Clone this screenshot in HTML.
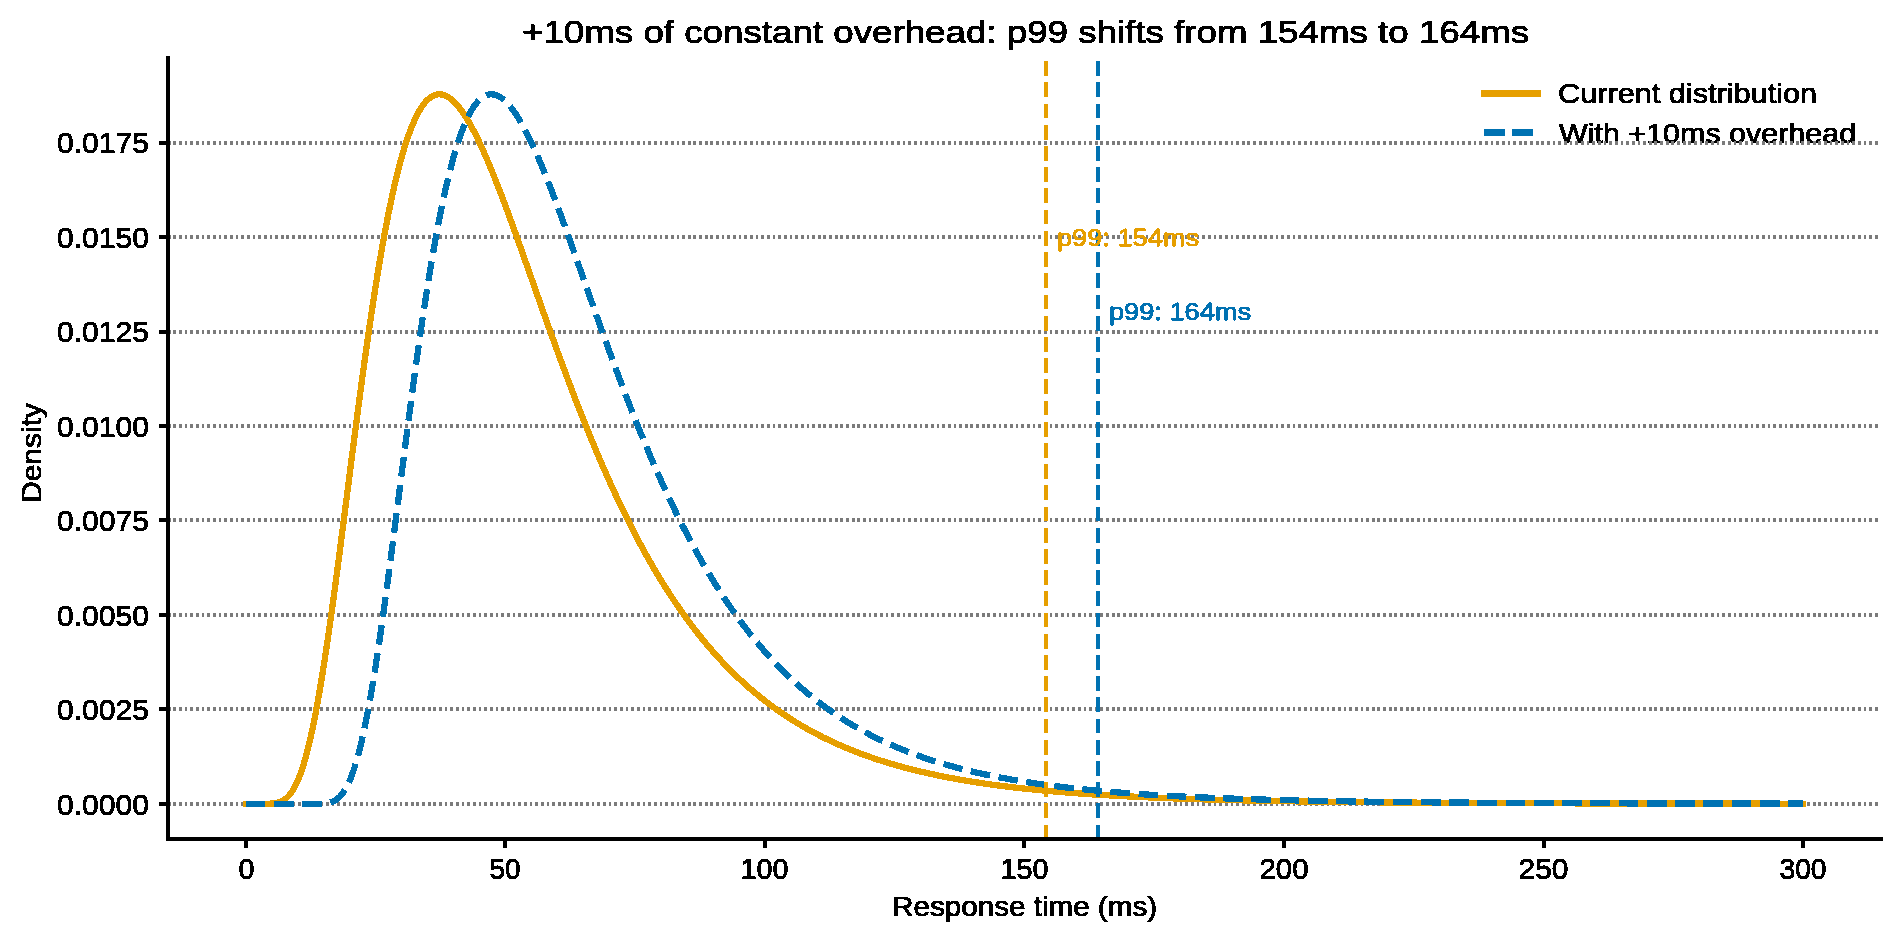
<!DOCTYPE html><html><head><meta charset="utf-8"><title>p99 overhead chart</title><style>
html,body{margin:0;padding:0;background:#fff;width:1900px;height:940px;overflow:hidden}
svg{display:block}
text{font-family:"Liberation Sans",sans-serif}
</style></head><body>
<svg width="1900" height="940" viewBox="0 0 1900 940">
<defs><filter id="bin" x="-5%" y="-20%" width="110%" height="140%" color-interpolation-filters="sRGB"><feComponentTransfer><feFuncA type="discrete" tableValues="0 1"/></feComponentTransfer></filter></defs>
<rect width="1900" height="940" fill="#fff"/>
<g filter="url(#bin)">
<text x="1558.00" y="103.00" font-size="27.78" fill="#000" text-anchor="start" textLength="259.10" lengthAdjust="spacingAndGlyphs" stroke="#000" stroke-width="0.90" stroke-linejoin="round">Current distribution</text>
<text x="1559.00" y="143.00" font-size="27.78" fill="#000" text-anchor="start" textLength="297.10" lengthAdjust="spacingAndGlyphs" stroke="#000" stroke-width="0.90" stroke-linejoin="round">With +10ms overhead</text>
</g>
<g shape-rendering="crispEdges" stroke="#7b7b7b" stroke-width="4" stroke-dasharray="2.75 2.903" fill="none">
<path d="M167.75 804 H1880.7"/>
<path d="M167.75 709 H1880.7"/>
<path d="M167.75 615 H1880.7"/>
<path d="M167.75 520 H1880.7"/>
<path d="M167.75 426 H1880.7"/>
<path d="M167.75 332 H1880.7"/>
<path d="M167.75 237 H1880.7"/>
<path d="M167.75 143 H1880.7"/>
</g>
<g fill="none" shape-rendering="crispEdges" stroke-linejoin="round">
<path d="M245.65 803.80 L246.69 803.80 L247.73 803.80 L248.76 803.80 L249.80 803.80 L250.84 803.80 L251.88 803.80 L252.92 803.80 L253.96 803.80 L254.99 803.80 L256.03 803.80 L257.07 803.80 L258.11 803.80 L259.15 803.80 L260.19 803.80 L261.22 803.80 L262.26 803.80 L263.30 803.79 L264.34 803.79 L265.38 803.78 L266.42 803.76 L267.45 803.74 L268.49 803.72 L269.53 803.68 L270.57 803.63 L271.61 803.57 L272.65 803.48 L273.68 803.37 L274.72 803.24 L275.76 803.07 L276.80 802.86 L277.84 802.61 L278.88 802.31 L279.91 801.96 L280.95 801.54 L281.99 801.06 L283.03 800.50 L284.07 799.86 L285.11 799.13 L286.14 798.30 L287.18 797.37 L288.22 796.33 L289.26 795.18 L290.30 793.90 L291.34 792.50 L292.37 790.96 L293.41 789.28 L294.45 787.45 L295.49 785.47 L296.53 783.33 L297.56 781.04 L298.60 778.57 L299.64 775.94 L300.68 773.14 L301.72 770.17 L302.76 767.01 L303.79 763.68 L304.83 760.17 L305.87 756.48 L306.91 752.61 L307.95 748.55 L308.99 744.32 L310.02 739.90 L311.06 735.31 L312.10 730.54 L313.14 725.59 L314.18 720.47 L315.22 715.18 L316.25 709.73 L317.29 704.11 L318.33 698.32 L319.37 692.39 L320.41 686.30 L321.45 680.06 L322.48 673.68 L323.52 667.16 L324.56 660.50 L325.60 653.72 L326.64 646.82 L327.68 639.80 L328.71 632.66 L329.75 625.42 L330.79 618.09 L331.83 610.65 L332.87 603.13 L333.91 595.53 L334.94 587.85 L335.98 580.10 L337.02 572.29 L338.06 564.42 L339.10 556.49 L340.14 548.52 L341.17 540.52 L342.21 532.47 L343.25 524.40 L344.29 516.31 L345.33 508.20 L346.37 500.08 L347.40 491.95 L348.44 483.82 L349.48 475.70 L350.52 467.59 L351.56 459.49 L352.59 451.42 L353.63 443.37 L354.67 435.35 L355.71 427.37 L356.75 419.42 L357.79 411.52 L358.82 403.67 L359.86 395.87 L360.90 388.13 L361.94 380.44 L362.98 372.82 L364.02 365.27 L365.05 357.79 L366.09 350.39 L367.13 343.06 L368.17 335.81 L369.21 328.64 L370.25 321.56 L371.28 314.57 L372.32 307.68 L373.36 300.87 L374.40 294.16 L375.44 287.55 L376.48 281.04 L377.51 274.63 L378.55 268.33 L379.59 262.13 L380.63 256.04 L381.67 250.06 L382.71 244.18 L383.74 238.42 L384.78 232.77 L385.82 227.23 L386.86 221.81 L387.90 216.50 L388.94 211.31 L389.97 206.23 L391.01 201.27 L392.05 196.43 L393.09 191.70 L394.13 187.10 L395.17 182.61 L396.20 178.24 L397.24 173.98 L398.28 169.85 L399.32 165.83 L400.36 161.93 L401.39 158.15 L402.43 154.48 L403.47 150.93 L404.51 147.50 L405.55 144.19 L406.59 140.99 L407.62 137.90 L408.66 134.93 L409.70 132.07 L410.74 129.33 L411.78 126.69 L412.82 124.17 L413.85 121.76 L414.89 119.46 L415.93 117.27 L416.97 115.18 L418.01 113.20 L419.05 111.33 L420.08 109.56 L421.12 107.90 L422.16 106.33 L423.20 104.87 L424.24 103.51 L425.28 102.25 L426.31 101.09 L427.35 100.02 L428.39 99.05 L429.43 98.17 L430.47 97.39 L431.51 96.70 L432.54 96.10 L433.58 95.58 L434.62 95.16 L435.66 94.82 L436.70 94.57 L437.74 94.40 L438.77 94.32 L439.81 94.31 L440.85 94.39 L441.89 94.55 L442.93 94.78 L443.97 95.09 L445.00 95.48 L446.04 95.94 L447.08 96.47 L448.12 97.07 L449.16 97.74 L450.20 98.48 L451.23 99.29 L452.27 100.17 L453.31 101.11 L454.35 102.11 L455.39 103.18 L456.42 104.30 L457.46 105.49 L458.50 106.73 L459.54 108.04 L460.58 109.39 L461.62 110.81 L462.65 112.27 L463.69 113.79 L464.73 115.36 L465.77 116.98 L466.81 118.65 L467.85 120.37 L468.88 122.13 L469.92 123.94 L470.96 125.79 L472.00 127.69 L473.04 129.63 L474.08 131.61 L475.11 133.63 L476.15 135.69 L477.19 137.79 L478.23 139.92 L479.27 142.09 L480.31 144.30 L481.34 146.54 L482.38 148.81 L483.42 151.11 L484.46 153.45 L485.50 155.81 L486.54 158.21 L487.57 160.63 L488.61 163.08 L489.65 165.55 L490.69 168.06 L491.73 170.58 L492.77 173.13 L493.80 175.70 L494.84 178.30 L495.88 180.92 L496.92 183.55 L497.96 186.21 L499.00 188.89 L500.03 191.58 L501.07 194.29 L502.11 197.02 L503.15 199.77 L504.19 202.53 L505.23 205.30 L506.26 208.09 L507.30 210.89 L508.34 213.71 L509.38 216.53 L510.42 219.37 L511.45 222.22 L512.49 225.08 L513.53 227.95 L514.57 230.82 L515.61 233.71 L516.65 236.60 L517.68 239.50 L518.72 242.41 L519.76 245.32 L520.80 248.24 L521.84 251.16 L522.88 254.09 L523.91 257.02 L524.95 259.96 L525.99 262.90 L527.03 265.84 L528.07 268.78 L529.11 271.72 L530.14 274.67 L531.18 277.62 L532.22 280.56 L533.26 283.51 L534.30 286.46 L535.34 289.40 L536.37 292.35 L537.41 295.29 L538.45 298.23 L539.49 301.17 L540.53 304.11 L541.57 307.04 L542.60 309.97 L543.64 312.90 L544.68 315.82 L545.72 318.74 L546.76 321.65 L547.80 324.56 L548.83 327.46 L549.87 330.36 L550.91 333.25 L551.95 336.14 L552.99 339.02 L554.03 341.89 L555.06 344.76 L556.10 347.62 L557.14 350.47 L558.18 353.32 L559.22 356.16 L560.25 358.99 L561.29 361.81 L562.33 364.62 L563.37 367.43 L564.41 370.22 L565.45 373.01 L566.48 375.79 L567.52 378.56 L568.56 381.32 L569.60 384.07 L570.64 386.81 L571.68 389.54 L572.71 392.26 L573.75 394.97 L574.79 397.68 L575.83 400.37 L576.87 403.05 L577.91 405.72 L578.94 408.37 L579.98 411.02 L581.02 413.66 L582.06 416.29 L583.10 418.90 L584.14 421.50 L585.17 424.10 L586.21 426.68 L587.25 429.25 L588.29 431.80 L589.33 434.35 L590.37 436.88 L591.40 439.41 L592.44 441.92 L593.48 444.41 L594.52 446.90 L595.56 449.38 L596.60 451.84 L597.63 454.29 L598.67 456.73 L599.71 459.15 L600.75 461.56 L601.79 463.97 L602.83 466.35 L603.86 468.73 L604.90 471.09 L605.94 473.44 L606.98 475.78 L608.02 478.11 L609.05 480.42 L610.09 482.72 L611.13 485.01 L612.17 487.29 L613.21 489.55 L614.25 491.80 L615.28 494.04 L616.32 496.26 L617.36 498.48 L618.40 500.68 L619.44 502.86 L620.48 505.04 L621.51 507.20 L622.55 509.35 L623.59 511.49 L624.63 513.61 L625.67 515.72 L626.71 517.82 L627.74 519.91 L628.78 521.98 L629.82 524.04 L630.86 526.09 L631.90 528.13 L632.94 530.15 L633.97 532.16 L635.01 534.16 L636.05 536.15 L637.09 538.12 L638.13 540.08 L639.17 542.03 L640.20 543.97 L641.24 545.89 L642.28 547.80 L643.32 549.70 L644.36 551.59 L645.40 553.47 L646.43 555.33 L647.47 557.18 L648.51 559.02 L649.55 560.85 L650.59 562.67 L651.63 564.47 L652.66 566.26 L653.70 568.04 L654.74 569.81 L655.78 571.56 L656.82 573.31 L657.86 575.04 L658.89 576.76 L659.93 578.47 L660.97 580.17 L662.01 581.86 L663.05 583.53 L664.08 585.20 L665.12 586.85 L666.16 588.49 L667.20 590.12 L668.24 591.74 L669.28 593.35 L670.31 594.94 L671.35 596.53 L672.39 598.10 L673.43 599.67 L674.47 601.22 L675.51 602.76 L676.54 604.29 L677.58 605.81 L678.62 607.32 L679.66 608.82 L680.70 610.31 L681.74 611.78 L682.77 613.25 L683.81 614.71 L684.85 616.15 L685.89 617.59 L686.93 619.02 L687.97 620.43 L689.00 621.84 L690.04 623.23 L691.08 624.62 L692.12 625.99 L693.16 627.36 L694.20 628.71 L695.23 630.06 L696.27 631.40 L697.31 632.72 L698.35 634.04 L699.39 635.35 L700.43 636.64 L701.46 637.93 L702.50 639.21 L703.54 640.48 L704.58 641.74 L705.62 642.99 L706.66 644.23 L707.69 645.46 L708.73 646.69 L709.77 647.90 L710.81 649.11 L711.85 650.30 L712.88 651.49 L713.92 652.67 L714.96 653.84 L716.00 655.00 L717.04 656.15 L718.08 657.29 L719.11 658.43 L720.15 659.55 L721.19 660.67 L722.23 661.78 L723.27 662.88 L724.31 663.98 L725.34 665.06 L726.38 666.14 L727.42 667.21 L728.46 668.27 L729.50 669.32 L730.54 670.36 L731.57 671.40 L732.61 672.43 L733.65 673.45 L734.69 674.46 L735.73 675.47 L736.77 676.47 L737.80 677.46 L738.84 678.44 L739.88 679.41 L740.92 680.38 L741.96 681.34 L743.00 682.30 L744.03 683.24 L745.07 684.18 L746.11 685.11 L747.15 686.03 L748.19 686.95 L749.23 687.86 L750.26 688.76 L751.30 689.66 L752.34 690.55 L753.38 691.43 L754.42 692.31 L755.46 693.18 L756.49 694.04 L757.53 694.89 L758.57 695.74 L759.61 696.58 L760.65 697.42 L761.69 698.25 L762.72 699.07 L763.76 699.89 L764.80 700.70 L765.84 701.50 L766.88 702.30 L767.91 703.09 L768.95 703.87 L769.99 704.65 L771.03 705.43 L772.07 706.19 L773.11 706.95 L774.14 707.71 L775.18 708.46 L776.22 709.20 L777.26 709.94 L778.30 710.67 L779.34 711.40 L780.37 712.12 L781.41 712.83 L782.45 713.54 L783.49 714.24 L784.53 714.94 L785.57 715.63 L786.60 716.32 L787.64 717.00 L788.68 717.68 L789.72 718.35 L790.76 719.02 L791.80 719.68 L792.83 720.33 L793.87 720.98 L794.91 721.63 L795.95 722.27 L796.99 722.90 L798.03 723.53 L799.06 724.16 L800.10 724.78 L801.14 725.39 L802.18 726.00 L803.22 726.61 L804.26 727.21 L805.29 727.80 L806.33 728.40 L807.37 728.98 L808.41 729.56 L809.45 730.14 L810.49 730.71 L811.52 731.28 L812.56 731.85 L813.60 732.41 L814.64 732.96 L815.68 733.51 L816.71 734.06 L817.75 734.60 L818.79 735.14 L819.83 735.67 L820.87 736.20 L821.91 736.73 L822.94 737.25 L823.98 737.76 L825.02 738.28 L826.06 738.78 L827.10 739.29 L828.14 739.79 L829.17 740.29 L830.21 740.78 L831.25 741.27 L832.29 741.75 L833.33 742.23 L834.37 742.71 L835.40 743.18 L836.44 743.65 L837.48 744.12 L838.52 744.58 L839.56 745.04 L840.60 745.49 L841.63 745.95 L842.67 746.39 L843.71 746.84 L844.75 747.28 L845.79 747.72 L846.83 748.15 L847.86 748.58 L848.90 749.01 L849.94 749.43 L850.98 749.85 L852.02 750.27 L853.06 750.68 L854.09 751.09 L855.13 751.50 L856.17 751.90 L857.21 752.30 L858.25 752.70 L859.29 753.09 L860.32 753.48 L861.36 753.87 L862.40 754.26 L863.44 754.64 L864.48 755.02 L865.52 755.39 L866.55 755.77 L867.59 756.14 L868.63 756.50 L869.67 756.87 L870.71 757.23 L871.74 757.59 L872.78 757.94 L873.82 758.29 L874.86 758.64 L875.90 758.99 L876.94 759.34 L877.97 759.68 L879.01 760.02 L880.05 760.35 L881.09 760.69 L882.13 761.02 L883.17 761.34 L884.20 761.67 L885.24 761.99 L886.28 762.31 L887.32 762.63 L888.36 762.95 L889.40 763.26 L890.43 763.57 L891.47 763.88 L892.51 764.18 L893.55 764.49 L894.59 764.79 L895.63 765.09 L896.66 765.38 L897.70 765.68 L898.74 765.97 L899.78 766.26 L900.82 766.54 L901.86 766.83 L902.89 767.11 L903.93 767.39 L904.97 767.67 L906.01 767.94 L907.05 768.22 L908.09 768.49 L909.12 768.76 L910.16 769.02 L911.20 769.29 L912.24 769.55 L913.28 769.81 L914.32 770.07 L915.35 770.33 L916.39 770.58 L917.43 770.83 L918.47 771.08 L919.51 771.33 L920.54 771.58 L921.58 771.82 L922.62 772.07 L923.66 772.31 L924.70 772.54 L925.74 772.78 L926.77 773.02 L927.81 773.25 L928.85 773.48 L929.89 773.71 L930.93 773.94 L931.97 774.16 L933.00 774.39 L934.04 774.61 L935.08 774.83 L936.12 775.05 L937.16 775.27 L938.20 775.48 L939.23 775.70 L940.27 775.91 L941.31 776.12 L942.35 776.33 L943.39 776.54 L944.43 776.74 L945.46 776.95 L946.50 777.15 L947.54 777.35 L948.58 777.55 L949.62 777.75 L950.66 777.94 L951.69 778.14 L952.73 778.33 L953.77 778.52 L954.81 778.71 L955.85 778.90 L956.89 779.09 L957.92 779.27 L958.96 779.46 L960.00 779.64 L961.04 779.82 L962.08 780.00 L963.12 780.18 L964.15 780.35 L965.19 780.53 L966.23 780.70 L967.27 780.88 L968.31 781.05 L969.35 781.22 L970.38 781.39 L971.42 781.55 L972.46 781.72 L973.50 781.89 L974.54 782.05 L975.57 782.21 L976.61 782.37 L977.65 782.53 L978.69 782.69 L979.73 782.85 L980.77 783.00 L981.80 783.16 L982.84 783.31 L983.88 783.47 L984.92 783.62 L985.96 783.77 L987.00 783.92 L988.03 784.06 L989.07 784.21 L990.11 784.36 L991.15 784.50 L992.19 784.64 L993.23 784.78 L994.26 784.93 L995.30 785.07 L996.34 785.20 L997.38 785.34 L998.42 785.48 L999.46 785.61 L1000.49 785.75 L1001.53 785.88 L1002.57 786.02 L1003.61 786.15 L1004.65 786.28 L1005.69 786.41 L1006.72 786.53 L1007.76 786.66 L1008.80 786.79 L1009.84 786.91 L1010.88 787.04 L1011.92 787.16 L1012.95 787.28 L1013.99 787.41 L1015.03 787.53 L1016.07 787.65 L1017.11 787.77 L1018.15 787.88 L1019.18 788.00 L1020.22 788.12 L1021.26 788.23 L1022.30 788.35 L1023.34 788.46 L1024.38 788.57 L1025.41 788.68 L1026.45 788.79 L1027.49 788.90 L1028.53 789.01 L1029.57 789.12 L1030.60 789.23 L1031.64 789.34 L1032.68 789.44 L1033.72 789.55 L1034.76 789.65 L1035.80 789.75 L1036.83 789.86 L1037.87 789.96 L1038.91 790.06 L1039.95 790.16 L1040.99 790.26 L1042.03 790.36 L1043.06 790.46 L1044.10 790.55 L1045.14 790.65 L1046.18 790.75 L1047.22 790.84 L1048.26 790.93 L1049.29 791.03 L1050.33 791.12 L1051.37 791.21 L1052.41 791.30 L1053.45 791.40 L1054.49 791.49 L1055.52 791.57 L1056.56 791.66 L1057.60 791.75 L1058.64 791.84 L1059.68 791.92 L1060.72 792.01 L1061.75 792.10 L1062.79 792.18 L1063.83 792.26 L1064.87 792.35 L1065.91 792.43 L1066.95 792.51 L1067.98 792.59 L1069.02 792.68 L1070.06 792.76 L1071.10 792.84 L1072.14 792.91 L1073.18 792.99 L1074.21 793.07 L1075.25 793.15 L1076.29 793.22 L1077.33 793.30 L1078.37 793.38 L1079.40 793.45 L1080.44 793.53 L1081.48 793.60 L1082.52 793.67 L1083.56 793.75 L1084.60 793.82 L1085.63 793.89 L1086.67 793.96 L1087.71 794.03 L1088.75 794.10 L1089.79 794.17 L1090.83 794.24 L1091.86 794.31 L1092.90 794.38 L1093.94 794.44 L1094.98 794.51 L1096.02 794.58 L1097.06 794.64 L1098.09 794.71 L1099.13 794.77 L1100.17 794.84 L1101.21 794.90 L1102.25 794.96 L1103.29 795.03 L1104.32 795.09 L1105.36 795.15 L1106.40 795.21 L1107.44 795.27 L1108.48 795.33 L1109.52 795.39 L1110.55 795.45 L1111.59 795.51 L1112.63 795.57 L1113.67 795.63 L1114.71 795.69 L1115.75 795.75 L1116.78 795.80 L1117.82 795.86 L1118.86 795.92 L1119.90 795.97 L1120.94 796.03 L1121.98 796.08 L1123.01 796.14 L1124.05 796.19 L1125.09 796.24 L1126.13 796.30 L1127.17 796.35 L1128.20 796.40 L1129.24 796.46 L1130.28 796.51 L1131.32 796.56 L1132.36 796.61 L1133.40 796.66 L1134.43 796.71 L1135.47 796.76 L1136.51 796.81 L1137.55 796.86 L1138.59 796.91 L1139.63 796.96 L1140.66 797.00 L1141.70 797.05 L1142.74 797.10 L1143.78 797.15 L1144.82 797.19 L1145.86 797.24 L1146.89 797.29 L1147.93 797.33 L1148.97 797.38 L1150.01 797.42 L1151.05 797.47 L1152.09 797.51 L1153.12 797.55 L1154.16 797.60 L1155.20 797.64 L1156.24 797.68 L1157.28 797.73 L1158.32 797.77 L1159.35 797.81 L1160.39 797.85 L1161.43 797.89 L1162.47 797.94 L1163.51 797.98 L1164.55 798.02 L1165.58 798.06 L1166.62 798.10 L1167.66 798.14 L1168.70 798.18 L1169.74 798.22 L1170.78 798.25 L1171.81 798.29 L1172.85 798.33 L1173.89 798.37 L1174.93 798.41 L1175.97 798.44 L1177.01 798.48 L1178.04 798.52 L1179.08 798.55 L1180.12 798.59 L1181.16 798.63 L1182.20 798.66 L1183.23 798.70 L1184.27 798.73 L1185.31 798.77 L1186.35 798.80 L1187.39 798.84 L1188.43 798.87 L1189.46 798.91 L1190.50 798.94 L1191.54 798.97 L1192.58 799.01 L1193.62 799.04 L1194.66 799.07 L1195.69 799.10 L1196.73 799.14 L1197.77 799.17 L1198.81 799.20 L1199.85 799.23 L1200.89 799.26 L1201.92 799.29 L1202.96 799.32 L1204.00 799.36 L1205.04 799.39 L1206.08 799.42 L1207.12 799.45 L1208.15 799.48 L1209.19 799.51 L1210.23 799.53 L1211.27 799.56 L1212.31 799.59 L1213.35 799.62 L1214.38 799.65 L1215.42 799.68 L1216.46 799.71 L1217.50 799.73 L1218.54 799.76 L1219.58 799.79 L1220.61 799.82 L1221.65 799.84 L1222.69 799.87 L1223.73 799.90 L1224.77 799.92 L1225.81 799.95 L1226.84 799.98 L1227.88 800.00 L1228.92 800.03 L1229.96 800.05 L1231.00 800.08 L1232.03 800.10 L1233.07 800.13 L1234.11 800.15 L1235.15 800.18 L1236.19 800.20 L1237.23 800.23 L1238.26 800.25 L1239.30 800.28 L1240.34 800.30 L1241.38 800.32 L1242.42 800.35 L1243.46 800.37 L1244.49 800.39 L1245.53 800.42 L1246.57 800.44 L1247.61 800.46 L1248.65 800.48 L1249.69 800.51 L1250.72 800.53 L1251.76 800.55 L1252.80 800.57 L1253.84 800.59 L1254.88 800.62 L1255.92 800.64 L1256.95 800.66 L1257.99 800.68 L1259.03 800.70 L1260.07 800.72 L1261.11 800.74 L1262.15 800.76 L1263.18 800.78 L1264.22 800.80 L1265.26 800.82 L1266.30 800.84 L1267.34 800.86 L1268.38 800.88 L1269.41 800.90 L1270.45 800.92 L1271.49 800.94 L1272.53 800.96 L1273.57 800.98 L1274.61 801.00 L1275.64 801.02 L1276.68 801.03 L1277.72 801.05 L1278.76 801.07 L1279.80 801.09 L1280.84 801.11 L1281.87 801.13 L1282.91 801.14 L1283.95 801.16 L1284.99 801.18 L1286.03 801.20 L1287.06 801.21 L1288.10 801.23 L1289.14 801.25 L1290.18 801.26 L1291.22 801.28 L1292.26 801.30 L1293.29 801.31 L1294.33 801.33 L1295.37 801.35 L1296.41 801.36 L1297.45 801.38 L1298.49 801.40 L1299.52 801.41 L1300.56 801.43 L1301.60 801.44 L1302.64 801.46 L1303.68 801.47 L1304.72 801.49 L1305.75 801.50 L1306.79 801.52 L1307.83 801.53 L1308.87 801.55 L1309.91 801.56 L1310.95 801.58 L1311.98 801.59 L1313.02 801.61 L1314.06 801.62 L1315.10 801.64 L1316.14 801.65 L1317.18 801.66 L1318.21 801.68 L1319.25 801.69 L1320.29 801.71 L1321.33 801.72 L1322.37 801.73 L1323.41 801.75 L1324.44 801.76 L1325.48 801.77 L1326.52 801.79 L1327.56 801.80 L1328.60 801.81 L1329.64 801.83 L1330.67 801.84 L1331.71 801.85 L1332.75 801.86 L1333.79 801.88 L1334.83 801.89 L1335.87 801.90 L1336.90 801.91 L1337.94 801.93 L1338.98 801.94 L1340.02 801.95 L1341.06 801.96 L1342.09 801.98 L1343.13 801.99 L1344.17 802.00 L1345.21 802.01 L1346.25 802.02 L1347.29 802.03 L1348.32 802.04 L1349.36 802.06 L1350.40 802.07 L1351.44 802.08 L1352.48 802.09 L1353.52 802.10 L1354.55 802.11 L1355.59 802.12 L1356.63 802.13 L1357.67 802.14 L1358.71 802.16 L1359.75 802.17 L1360.78 802.18 L1361.82 802.19 L1362.86 802.20 L1363.90 802.21 L1364.94 802.22 L1365.98 802.23 L1367.01 802.24 L1368.05 802.25 L1369.09 802.26 L1370.13 802.27 L1371.17 802.28 L1372.21 802.29 L1373.24 802.30 L1374.28 802.31 L1375.32 802.32 L1376.36 802.33 L1377.40 802.34 L1378.44 802.34 L1379.47 802.35 L1380.51 802.36 L1381.55 802.37 L1382.59 802.38 L1383.63 802.39 L1384.67 802.40 L1385.70 802.41 L1386.74 802.42 L1387.78 802.43 L1388.82 802.44 L1389.86 802.44 L1390.89 802.45 L1391.93 802.46 L1392.97 802.47 L1394.01 802.48 L1395.05 802.49 L1396.09 802.49 L1397.12 802.50 L1398.16 802.51 L1399.20 802.52 L1400.24 802.53 L1401.28 802.54 L1402.32 802.54 L1403.35 802.55 L1404.39 802.56 L1405.43 802.57 L1406.47 802.58 L1407.51 802.58 L1408.55 802.59 L1409.58 802.60 L1410.62 802.61 L1411.66 802.61 L1412.70 802.62 L1413.74 802.63 L1414.78 802.64 L1415.81 802.64 L1416.85 802.65 L1417.89 802.66 L1418.93 802.67 L1419.97 802.67 L1421.01 802.68 L1422.04 802.69 L1423.08 802.69 L1424.12 802.70 L1425.16 802.71 L1426.20 802.71 L1427.24 802.72 L1428.27 802.73 L1429.31 802.73 L1430.35 802.74 L1431.39 802.75 L1432.43 802.75 L1433.47 802.76 L1434.50 802.77 L1435.54 802.77 L1436.58 802.78 L1437.62 802.79 L1438.66 802.79 L1439.69 802.80 L1440.73 802.81 L1441.77 802.81 L1442.81 802.82 L1443.85 802.82 L1444.89 802.83 L1445.92 802.84 L1446.96 802.84 L1448.00 802.85 L1449.04 802.85 L1450.08 802.86 L1451.12 802.87 L1452.15 802.87 L1453.19 802.88 L1454.23 802.88 L1455.27 802.89 L1456.31 802.89 L1457.35 802.90 L1458.38 802.91 L1459.42 802.91 L1460.46 802.92 L1461.50 802.92 L1462.54 802.93 L1463.58 802.93 L1464.61 802.94 L1465.65 802.94 L1466.69 802.95 L1467.73 802.95 L1468.77 802.96 L1469.81 802.97 L1470.84 802.97 L1471.88 802.98 L1472.92 802.98 L1473.96 802.99 L1475.00 802.99 L1476.04 803.00 L1477.07 803.00 L1478.11 803.01 L1479.15 803.01 L1480.19 803.02 L1481.23 803.02 L1482.27 803.02 L1483.30 803.03 L1484.34 803.03 L1485.38 803.04 L1486.42 803.04 L1487.46 803.05 L1488.50 803.05 L1489.53 803.06 L1490.57 803.06 L1491.61 803.07 L1492.65 803.07 L1493.69 803.08 L1494.72 803.08 L1495.76 803.08 L1496.80 803.09 L1497.84 803.09 L1498.88 803.10 L1499.92 803.10 L1500.95 803.11 L1501.99 803.11 L1503.03 803.11 L1504.07 803.12 L1505.11 803.12 L1506.15 803.13 L1507.18 803.13 L1508.22 803.14 L1509.26 803.14 L1510.30 803.14 L1511.34 803.15 L1512.38 803.15 L1513.41 803.16 L1514.45 803.16 L1515.49 803.16 L1516.53 803.17 L1517.57 803.17 L1518.61 803.17 L1519.64 803.18 L1520.68 803.18 L1521.72 803.19 L1522.76 803.19 L1523.80 803.19 L1524.84 803.20 L1525.87 803.20 L1526.91 803.20 L1527.95 803.21 L1528.99 803.21 L1530.03 803.22 L1531.07 803.22 L1532.10 803.22 L1533.14 803.23 L1534.18 803.23 L1535.22 803.23 L1536.26 803.24 L1537.30 803.24 L1538.33 803.24 L1539.37 803.25 L1540.41 803.25 L1541.45 803.25 L1542.49 803.26 L1543.53 803.26 L1544.56 803.26 L1545.60 803.27 L1546.64 803.27 L1547.68 803.27 L1548.72 803.28 L1549.75 803.28 L1550.79 803.28 L1551.83 803.28 L1552.87 803.29 L1553.91 803.29 L1554.95 803.29 L1555.98 803.30 L1557.02 803.30 L1558.06 803.30 L1559.10 803.31 L1560.14 803.31 L1561.18 803.31 L1562.21 803.31 L1563.25 803.32 L1564.29 803.32 L1565.33 803.32 L1566.37 803.33 L1567.41 803.33 L1568.44 803.33 L1569.48 803.33 L1570.52 803.34 L1571.56 803.34 L1572.60 803.34 L1573.64 803.35 L1574.67 803.35 L1575.71 803.35 L1576.75 803.35 L1577.79 803.36 L1578.83 803.36 L1579.87 803.36 L1580.90 803.36 L1581.94 803.37 L1582.98 803.37 L1584.02 803.37 L1585.06 803.37 L1586.10 803.38 L1587.13 803.38 L1588.17 803.38 L1589.21 803.38 L1590.25 803.39 L1591.29 803.39 L1592.33 803.39 L1593.36 803.39 L1594.40 803.40 L1595.44 803.40 L1596.48 803.40 L1597.52 803.40 L1598.55 803.41 L1599.59 803.41 L1600.63 803.41 L1601.67 803.41 L1602.71 803.42 L1603.75 803.42 L1604.78 803.42 L1605.82 803.42 L1606.86 803.42 L1607.90 803.43 L1608.94 803.43 L1609.98 803.43 L1611.01 803.43 L1612.05 803.44 L1613.09 803.44 L1614.13 803.44 L1615.17 803.44 L1616.21 803.44 L1617.24 803.45 L1618.28 803.45 L1619.32 803.45 L1620.36 803.45 L1621.40 803.45 L1622.44 803.46 L1623.47 803.46 L1624.51 803.46 L1625.55 803.46 L1626.59 803.46 L1627.63 803.47 L1628.67 803.47 L1629.70 803.47 L1630.74 803.47 L1631.78 803.47 L1632.82 803.48 L1633.86 803.48 L1634.90 803.48 L1635.93 803.48 L1636.97 803.48 L1638.01 803.49 L1639.05 803.49 L1640.09 803.49 L1641.13 803.49 L1642.16 803.49 L1643.20 803.49 L1644.24 803.50 L1645.28 803.50 L1646.32 803.50 L1647.36 803.50 L1648.39 803.50 L1649.43 803.50 L1650.47 803.51 L1651.51 803.51 L1652.55 803.51 L1653.58 803.51 L1654.62 803.51 L1655.66 803.51 L1656.70 803.52 L1657.74 803.52 L1658.78 803.52 L1659.81 803.52 L1660.85 803.52 L1661.89 803.52 L1662.93 803.53 L1663.97 803.53 L1665.01 803.53 L1666.04 803.53 L1667.08 803.53 L1668.12 803.53 L1669.16 803.54 L1670.20 803.54 L1671.24 803.54 L1672.27 803.54 L1673.31 803.54 L1674.35 803.54 L1675.39 803.54 L1676.43 803.55 L1677.47 803.55 L1678.50 803.55 L1679.54 803.55 L1680.58 803.55 L1681.62 803.55 L1682.66 803.55 L1683.70 803.56 L1684.73 803.56 L1685.77 803.56 L1686.81 803.56 L1687.85 803.56 L1688.89 803.56 L1689.93 803.56 L1690.96 803.57 L1692.00 803.57 L1693.04 803.57 L1694.08 803.57 L1695.12 803.57 L1696.16 803.57 L1697.19 803.57 L1698.23 803.57 L1699.27 803.58 L1700.31 803.58 L1701.35 803.58 L1702.38 803.58 L1703.42 803.58 L1704.46 803.58 L1705.50 803.58 L1706.54 803.58 L1707.58 803.59 L1708.61 803.59 L1709.65 803.59 L1710.69 803.59 L1711.73 803.59 L1712.77 803.59 L1713.81 803.59 L1714.84 803.59 L1715.88 803.60 L1716.92 803.60 L1717.96 803.60 L1719.00 803.60 L1720.04 803.60 L1721.07 803.60 L1722.11 803.60 L1723.15 803.60 L1724.19 803.60 L1725.23 803.61 L1726.27 803.61 L1727.30 803.61 L1728.34 803.61 L1729.38 803.61 L1730.42 803.61 L1731.46 803.61 L1732.50 803.61 L1733.53 803.61 L1734.57 803.62 L1735.61 803.62 L1736.65 803.62 L1737.69 803.62 L1738.73 803.62 L1739.76 803.62 L1740.80 803.62 L1741.84 803.62 L1742.88 803.62 L1743.92 803.62 L1744.96 803.63 L1745.99 803.63 L1747.03 803.63 L1748.07 803.63 L1749.11 803.63 L1750.15 803.63 L1751.18 803.63 L1752.22 803.63 L1753.26 803.63 L1754.30 803.63 L1755.34 803.63 L1756.38 803.64 L1757.41 803.64 L1758.45 803.64 L1759.49 803.64 L1760.53 803.64 L1761.57 803.64 L1762.61 803.64 L1763.64 803.64 L1764.68 803.64 L1765.72 803.64 L1766.76 803.64 L1767.80 803.65 L1768.84 803.65 L1769.87 803.65 L1770.91 803.65 L1771.95 803.65 L1772.99 803.65 L1774.03 803.65 L1775.07 803.65 L1776.10 803.65 L1777.14 803.65 L1778.18 803.65 L1779.22 803.65 L1780.26 803.66 L1781.30 803.66 L1782.33 803.66 L1783.37 803.66 L1784.41 803.66 L1785.45 803.66 L1786.49 803.66 L1787.53 803.66 L1788.56 803.66 L1789.60 803.66 L1790.64 803.66 L1791.68 803.66 L1792.72 803.66 L1793.76 803.67 L1794.79 803.67 L1795.83 803.67 L1796.87 803.67 L1797.91 803.67 L1798.95 803.67 L1799.99 803.67 L1801.02 803.67 L1802.06 803.67 L1803.10 803.67" stroke="#E69F00" stroke-width="6.3" stroke-linecap="square"/>
<path d="M245.65 803.80 L246.69 803.80 L247.73 803.80 L248.76 803.80 L249.80 803.80 L250.84 803.80 L251.88 803.80 L252.92 803.80 L253.96 803.80 L254.99 803.80 L256.03 803.80 L257.07 803.80 L258.11 803.80 L259.15 803.80 L260.19 803.80 L261.22 803.80 L262.26 803.80 L263.30 803.80 L264.34 803.80 L265.38 803.80 L266.42 803.80 L267.45 803.80 L268.49 803.80 L269.53 803.80 L270.57 803.80 L271.61 803.80 L272.65 803.80 L273.68 803.80 L274.72 803.80 L275.76 803.80 L276.80 803.80 L277.84 803.80 L278.88 803.80 L279.91 803.80 L280.95 803.80 L281.99 803.80 L283.03 803.80 L284.07 803.80 L285.11 803.80 L286.14 803.80 L287.18 803.80 L288.22 803.80 L289.26 803.80 L290.30 803.80 L291.34 803.80 L292.37 803.80 L293.41 803.80 L294.45 803.80 L295.49 803.80 L296.53 803.80 L297.56 803.80 L298.60 803.80 L299.64 803.80 L300.68 803.80 L301.72 803.80 L302.76 803.80 L303.79 803.80 L304.83 803.80 L305.87 803.80 L306.91 803.80 L307.95 803.80 L308.99 803.80 L310.02 803.80 L311.06 803.80 L312.10 803.80 L313.14 803.80 L314.18 803.80 L315.22 803.79 L316.25 803.79 L317.29 803.78 L318.33 803.76 L319.37 803.74 L320.41 803.72 L321.45 803.68 L322.48 803.63 L323.52 803.57 L324.56 803.48 L325.60 803.37 L326.64 803.24 L327.68 803.07 L328.71 802.86 L329.75 802.61 L330.79 802.31 L331.83 801.96 L332.87 801.54 L333.91 801.06 L334.94 800.50 L335.98 799.86 L337.02 799.13 L338.06 798.30 L339.10 797.37 L340.14 796.33 L341.17 795.18 L342.21 793.90 L343.25 792.50 L344.29 790.96 L345.33 789.28 L346.37 787.45 L347.40 785.47 L348.44 783.33 L349.48 781.04 L350.52 778.57 L351.56 775.94 L352.59 773.14 L353.63 770.17 L354.67 767.01 L355.71 763.68 L356.75 760.17 L357.79 756.48 L358.82 752.61 L359.86 748.55 L360.90 744.32 L361.94 739.90 L362.98 735.31 L364.02 730.54 L365.05 725.59 L366.09 720.47 L367.13 715.18 L368.17 709.73 L369.21 704.11 L370.25 698.32 L371.28 692.39 L372.32 686.30 L373.36 680.06 L374.40 673.68 L375.44 667.16 L376.48 660.50 L377.51 653.72 L378.55 646.82 L379.59 639.80 L380.63 632.66 L381.67 625.42 L382.71 618.09 L383.74 610.65 L384.78 603.13 L385.82 595.53 L386.86 587.85 L387.90 580.10 L388.94 572.29 L389.97 564.42 L391.01 556.49 L392.05 548.52 L393.09 540.52 L394.13 532.47 L395.17 524.40 L396.20 516.31 L397.24 508.20 L398.28 500.08 L399.32 491.95 L400.36 483.82 L401.39 475.70 L402.43 467.59 L403.47 459.49 L404.51 451.42 L405.55 443.37 L406.59 435.35 L407.62 427.37 L408.66 419.42 L409.70 411.52 L410.74 403.67 L411.78 395.87 L412.82 388.13 L413.85 380.44 L414.89 372.82 L415.93 365.27 L416.97 357.79 L418.01 350.39 L419.05 343.06 L420.08 335.81 L421.12 328.64 L422.16 321.56 L423.20 314.57 L424.24 307.68 L425.28 300.87 L426.31 294.16 L427.35 287.55 L428.39 281.04 L429.43 274.63 L430.47 268.33 L431.51 262.13 L432.54 256.04 L433.58 250.06 L434.62 244.18 L435.66 238.42 L436.70 232.77 L437.74 227.23 L438.77 221.81 L439.81 216.50 L440.85 211.31 L441.89 206.23 L442.93 201.27 L443.97 196.43 L445.00 191.70 L446.04 187.10 L447.08 182.61 L448.12 178.24 L449.16 173.98 L450.20 169.85 L451.23 165.83 L452.27 161.93 L453.31 158.15 L454.35 154.48 L455.39 150.93 L456.42 147.50 L457.46 144.19 L458.50 140.99 L459.54 137.90 L460.58 134.93 L461.62 132.07 L462.65 129.33 L463.69 126.69 L464.73 124.17 L465.77 121.76 L466.81 119.46 L467.85 117.27 L468.88 115.18 L469.92 113.20 L470.96 111.33 L472.00 109.56 L473.04 107.90 L474.08 106.33 L475.11 104.87 L476.15 103.51 L477.19 102.25 L478.23 101.09 L479.27 100.02 L480.31 99.05 L481.34 98.17 L482.38 97.39 L483.42 96.70 L484.46 96.10 L485.50 95.58 L486.54 95.16 L487.57 94.82 L488.61 94.57 L489.65 94.40 L490.69 94.32 L491.73 94.31 L492.77 94.39 L493.80 94.55 L494.84 94.78 L495.88 95.09 L496.92 95.48 L497.96 95.94 L499.00 96.47 L500.03 97.07 L501.07 97.74 L502.11 98.48 L503.15 99.29 L504.19 100.17 L505.23 101.11 L506.26 102.11 L507.30 103.18 L508.34 104.30 L509.38 105.49 L510.42 106.73 L511.45 108.04 L512.49 109.39 L513.53 110.81 L514.57 112.27 L515.61 113.79 L516.65 115.36 L517.68 116.98 L518.72 118.65 L519.76 120.37 L520.80 122.13 L521.84 123.94 L522.88 125.79 L523.91 127.69 L524.95 129.63 L525.99 131.61 L527.03 133.63 L528.07 135.69 L529.11 137.79 L530.14 139.92 L531.18 142.09 L532.22 144.30 L533.26 146.54 L534.30 148.81 L535.34 151.11 L536.37 153.45 L537.41 155.81 L538.45 158.21 L539.49 160.63 L540.53 163.08 L541.57 165.55 L542.60 168.06 L543.64 170.58 L544.68 173.13 L545.72 175.70 L546.76 178.30 L547.80 180.92 L548.83 183.55 L549.87 186.21 L550.91 188.89 L551.95 191.58 L552.99 194.29 L554.03 197.02 L555.06 199.77 L556.10 202.53 L557.14 205.30 L558.18 208.09 L559.22 210.89 L560.25 213.71 L561.29 216.53 L562.33 219.37 L563.37 222.22 L564.41 225.08 L565.45 227.95 L566.48 230.82 L567.52 233.71 L568.56 236.60 L569.60 239.50 L570.64 242.41 L571.68 245.32 L572.71 248.24 L573.75 251.16 L574.79 254.09 L575.83 257.02 L576.87 259.96 L577.91 262.90 L578.94 265.84 L579.98 268.78 L581.02 271.72 L582.06 274.67 L583.10 277.62 L584.14 280.56 L585.17 283.51 L586.21 286.46 L587.25 289.40 L588.29 292.35 L589.33 295.29 L590.37 298.23 L591.40 301.17 L592.44 304.11 L593.48 307.04 L594.52 309.97 L595.56 312.90 L596.60 315.82 L597.63 318.74 L598.67 321.65 L599.71 324.56 L600.75 327.46 L601.79 330.36 L602.83 333.25 L603.86 336.14 L604.90 339.02 L605.94 341.89 L606.98 344.76 L608.02 347.62 L609.05 350.47 L610.09 353.32 L611.13 356.16 L612.17 358.99 L613.21 361.81 L614.25 364.62 L615.28 367.43 L616.32 370.22 L617.36 373.01 L618.40 375.79 L619.44 378.56 L620.48 381.32 L621.51 384.07 L622.55 386.81 L623.59 389.54 L624.63 392.26 L625.67 394.97 L626.71 397.68 L627.74 400.37 L628.78 403.05 L629.82 405.72 L630.86 408.37 L631.90 411.02 L632.94 413.66 L633.97 416.29 L635.01 418.90 L636.05 421.50 L637.09 424.10 L638.13 426.68 L639.17 429.25 L640.20 431.80 L641.24 434.35 L642.28 436.88 L643.32 439.41 L644.36 441.92 L645.40 444.41 L646.43 446.90 L647.47 449.38 L648.51 451.84 L649.55 454.29 L650.59 456.73 L651.63 459.15 L652.66 461.56 L653.70 463.97 L654.74 466.35 L655.78 468.73 L656.82 471.09 L657.86 473.44 L658.89 475.78 L659.93 478.11 L660.97 480.42 L662.01 482.72 L663.05 485.01 L664.08 487.29 L665.12 489.55 L666.16 491.80 L667.20 494.04 L668.24 496.26 L669.28 498.48 L670.31 500.68 L671.35 502.86 L672.39 505.04 L673.43 507.20 L674.47 509.35 L675.51 511.49 L676.54 513.61 L677.58 515.72 L678.62 517.82 L679.66 519.91 L680.70 521.98 L681.74 524.04 L682.77 526.09 L683.81 528.13 L684.85 530.15 L685.89 532.16 L686.93 534.16 L687.97 536.15 L689.00 538.12 L690.04 540.08 L691.08 542.03 L692.12 543.97 L693.16 545.89 L694.20 547.80 L695.23 549.70 L696.27 551.59 L697.31 553.47 L698.35 555.33 L699.39 557.18 L700.43 559.02 L701.46 560.85 L702.50 562.67 L703.54 564.47 L704.58 566.26 L705.62 568.04 L706.66 569.81 L707.69 571.56 L708.73 573.31 L709.77 575.04 L710.81 576.76 L711.85 578.47 L712.88 580.17 L713.92 581.86 L714.96 583.53 L716.00 585.20 L717.04 586.85 L718.08 588.49 L719.11 590.12 L720.15 591.74 L721.19 593.35 L722.23 594.94 L723.27 596.53 L724.31 598.10 L725.34 599.67 L726.38 601.22 L727.42 602.76 L728.46 604.29 L729.50 605.81 L730.54 607.32 L731.57 608.82 L732.61 610.31 L733.65 611.78 L734.69 613.25 L735.73 614.71 L736.77 616.15 L737.80 617.59 L738.84 619.02 L739.88 620.43 L740.92 621.84 L741.96 623.23 L743.00 624.62 L744.03 625.99 L745.07 627.36 L746.11 628.71 L747.15 630.06 L748.19 631.40 L749.23 632.72 L750.26 634.04 L751.30 635.35 L752.34 636.64 L753.38 637.93 L754.42 639.21 L755.46 640.48 L756.49 641.74 L757.53 642.99 L758.57 644.23 L759.61 645.46 L760.65 646.69 L761.69 647.90 L762.72 649.11 L763.76 650.30 L764.80 651.49 L765.84 652.67 L766.88 653.84 L767.91 655.00 L768.95 656.15 L769.99 657.29 L771.03 658.43 L772.07 659.55 L773.11 660.67 L774.14 661.78 L775.18 662.88 L776.22 663.98 L777.26 665.06 L778.30 666.14 L779.34 667.21 L780.37 668.27 L781.41 669.32 L782.45 670.36 L783.49 671.40 L784.53 672.43 L785.57 673.45 L786.60 674.46 L787.64 675.47 L788.68 676.47 L789.72 677.46 L790.76 678.44 L791.80 679.41 L792.83 680.38 L793.87 681.34 L794.91 682.30 L795.95 683.24 L796.99 684.18 L798.03 685.11 L799.06 686.03 L800.10 686.95 L801.14 687.86 L802.18 688.76 L803.22 689.66 L804.26 690.55 L805.29 691.43 L806.33 692.31 L807.37 693.18 L808.41 694.04 L809.45 694.89 L810.49 695.74 L811.52 696.58 L812.56 697.42 L813.60 698.25 L814.64 699.07 L815.68 699.89 L816.71 700.70 L817.75 701.50 L818.79 702.30 L819.83 703.09 L820.87 703.87 L821.91 704.65 L822.94 705.43 L823.98 706.19 L825.02 706.95 L826.06 707.71 L827.10 708.46 L828.14 709.20 L829.17 709.94 L830.21 710.67 L831.25 711.40 L832.29 712.12 L833.33 712.83 L834.37 713.54 L835.40 714.24 L836.44 714.94 L837.48 715.63 L838.52 716.32 L839.56 717.00 L840.60 717.68 L841.63 718.35 L842.67 719.02 L843.71 719.68 L844.75 720.33 L845.79 720.98 L846.83 721.63 L847.86 722.27 L848.90 722.90 L849.94 723.53 L850.98 724.16 L852.02 724.78 L853.06 725.39 L854.09 726.00 L855.13 726.61 L856.17 727.21 L857.21 727.80 L858.25 728.40 L859.29 728.98 L860.32 729.56 L861.36 730.14 L862.40 730.71 L863.44 731.28 L864.48 731.85 L865.52 732.41 L866.55 732.96 L867.59 733.51 L868.63 734.06 L869.67 734.60 L870.71 735.14 L871.74 735.67 L872.78 736.20 L873.82 736.73 L874.86 737.25 L875.90 737.76 L876.94 738.28 L877.97 738.78 L879.01 739.29 L880.05 739.79 L881.09 740.29 L882.13 740.78 L883.17 741.27 L884.20 741.75 L885.24 742.23 L886.28 742.71 L887.32 743.18 L888.36 743.65 L889.40 744.12 L890.43 744.58 L891.47 745.04 L892.51 745.49 L893.55 745.95 L894.59 746.39 L895.63 746.84 L896.66 747.28 L897.70 747.72 L898.74 748.15 L899.78 748.58 L900.82 749.01 L901.86 749.43 L902.89 749.85 L903.93 750.27 L904.97 750.68 L906.01 751.09 L907.05 751.50 L908.09 751.90 L909.12 752.30 L910.16 752.70 L911.20 753.09 L912.24 753.48 L913.28 753.87 L914.32 754.26 L915.35 754.64 L916.39 755.02 L917.43 755.39 L918.47 755.77 L919.51 756.14 L920.54 756.50 L921.58 756.87 L922.62 757.23 L923.66 757.59 L924.70 757.94 L925.74 758.29 L926.77 758.64 L927.81 758.99 L928.85 759.34 L929.89 759.68 L930.93 760.02 L931.97 760.35 L933.00 760.69 L934.04 761.02 L935.08 761.34 L936.12 761.67 L937.16 761.99 L938.20 762.31 L939.23 762.63 L940.27 762.95 L941.31 763.26 L942.35 763.57 L943.39 763.88 L944.43 764.18 L945.46 764.49 L946.50 764.79 L947.54 765.09 L948.58 765.38 L949.62 765.68 L950.66 765.97 L951.69 766.26 L952.73 766.54 L953.77 766.83 L954.81 767.11 L955.85 767.39 L956.89 767.67 L957.92 767.94 L958.96 768.22 L960.00 768.49 L961.04 768.76 L962.08 769.02 L963.12 769.29 L964.15 769.55 L965.19 769.81 L966.23 770.07 L967.27 770.33 L968.31 770.58 L969.35 770.83 L970.38 771.08 L971.42 771.33 L972.46 771.58 L973.50 771.82 L974.54 772.07 L975.57 772.31 L976.61 772.54 L977.65 772.78 L978.69 773.02 L979.73 773.25 L980.77 773.48 L981.80 773.71 L982.84 773.94 L983.88 774.16 L984.92 774.39 L985.96 774.61 L987.00 774.83 L988.03 775.05 L989.07 775.27 L990.11 775.48 L991.15 775.70 L992.19 775.91 L993.23 776.12 L994.26 776.33 L995.30 776.54 L996.34 776.74 L997.38 776.95 L998.42 777.15 L999.46 777.35 L1000.49 777.55 L1001.53 777.75 L1002.57 777.94 L1003.61 778.14 L1004.65 778.33 L1005.69 778.52 L1006.72 778.71 L1007.76 778.90 L1008.80 779.09 L1009.84 779.27 L1010.88 779.46 L1011.92 779.64 L1012.95 779.82 L1013.99 780.00 L1015.03 780.18 L1016.07 780.35 L1017.11 780.53 L1018.15 780.70 L1019.18 780.88 L1020.22 781.05 L1021.26 781.22 L1022.30 781.39 L1023.34 781.55 L1024.38 781.72 L1025.41 781.89 L1026.45 782.05 L1027.49 782.21 L1028.53 782.37 L1029.57 782.53 L1030.60 782.69 L1031.64 782.85 L1032.68 783.00 L1033.72 783.16 L1034.76 783.31 L1035.80 783.47 L1036.83 783.62 L1037.87 783.77 L1038.91 783.92 L1039.95 784.06 L1040.99 784.21 L1042.03 784.36 L1043.06 784.50 L1044.10 784.64 L1045.14 784.78 L1046.18 784.93 L1047.22 785.07 L1048.26 785.20 L1049.29 785.34 L1050.33 785.48 L1051.37 785.61 L1052.41 785.75 L1053.45 785.88 L1054.49 786.02 L1055.52 786.15 L1056.56 786.28 L1057.60 786.41 L1058.64 786.53 L1059.68 786.66 L1060.72 786.79 L1061.75 786.91 L1062.79 787.04 L1063.83 787.16 L1064.87 787.28 L1065.91 787.41 L1066.95 787.53 L1067.98 787.65 L1069.02 787.77 L1070.06 787.88 L1071.10 788.00 L1072.14 788.12 L1073.18 788.23 L1074.21 788.35 L1075.25 788.46 L1076.29 788.57 L1077.33 788.68 L1078.37 788.79 L1079.40 788.90 L1080.44 789.01 L1081.48 789.12 L1082.52 789.23 L1083.56 789.34 L1084.60 789.44 L1085.63 789.55 L1086.67 789.65 L1087.71 789.75 L1088.75 789.86 L1089.79 789.96 L1090.83 790.06 L1091.86 790.16 L1092.90 790.26 L1093.94 790.36 L1094.98 790.46 L1096.02 790.55 L1097.06 790.65 L1098.09 790.75 L1099.13 790.84 L1100.17 790.93 L1101.21 791.03 L1102.25 791.12 L1103.29 791.21 L1104.32 791.30 L1105.36 791.40 L1106.40 791.49 L1107.44 791.57 L1108.48 791.66 L1109.52 791.75 L1110.55 791.84 L1111.59 791.92 L1112.63 792.01 L1113.67 792.10 L1114.71 792.18 L1115.75 792.26 L1116.78 792.35 L1117.82 792.43 L1118.86 792.51 L1119.90 792.59 L1120.94 792.68 L1121.98 792.76 L1123.01 792.84 L1124.05 792.91 L1125.09 792.99 L1126.13 793.07 L1127.17 793.15 L1128.20 793.22 L1129.24 793.30 L1130.28 793.38 L1131.32 793.45 L1132.36 793.53 L1133.40 793.60 L1134.43 793.67 L1135.47 793.75 L1136.51 793.82 L1137.55 793.89 L1138.59 793.96 L1139.63 794.03 L1140.66 794.10 L1141.70 794.17 L1142.74 794.24 L1143.78 794.31 L1144.82 794.38 L1145.86 794.44 L1146.89 794.51 L1147.93 794.58 L1148.97 794.64 L1150.01 794.71 L1151.05 794.77 L1152.09 794.84 L1153.12 794.90 L1154.16 794.96 L1155.20 795.03 L1156.24 795.09 L1157.28 795.15 L1158.32 795.21 L1159.35 795.27 L1160.39 795.33 L1161.43 795.39 L1162.47 795.45 L1163.51 795.51 L1164.55 795.57 L1165.58 795.63 L1166.62 795.69 L1167.66 795.75 L1168.70 795.80 L1169.74 795.86 L1170.78 795.92 L1171.81 795.97 L1172.85 796.03 L1173.89 796.08 L1174.93 796.14 L1175.97 796.19 L1177.01 796.24 L1178.04 796.30 L1179.08 796.35 L1180.12 796.40 L1181.16 796.46 L1182.20 796.51 L1183.23 796.56 L1184.27 796.61 L1185.31 796.66 L1186.35 796.71 L1187.39 796.76 L1188.43 796.81 L1189.46 796.86 L1190.50 796.91 L1191.54 796.96 L1192.58 797.00 L1193.62 797.05 L1194.66 797.10 L1195.69 797.15 L1196.73 797.19 L1197.77 797.24 L1198.81 797.29 L1199.85 797.33 L1200.89 797.38 L1201.92 797.42 L1202.96 797.47 L1204.00 797.51 L1205.04 797.55 L1206.08 797.60 L1207.12 797.64 L1208.15 797.68 L1209.19 797.73 L1210.23 797.77 L1211.27 797.81 L1212.31 797.85 L1213.35 797.89 L1214.38 797.94 L1215.42 797.98 L1216.46 798.02 L1217.50 798.06 L1218.54 798.10 L1219.58 798.14 L1220.61 798.18 L1221.65 798.22 L1222.69 798.25 L1223.73 798.29 L1224.77 798.33 L1225.81 798.37 L1226.84 798.41 L1227.88 798.44 L1228.92 798.48 L1229.96 798.52 L1231.00 798.55 L1232.03 798.59 L1233.07 798.63 L1234.11 798.66 L1235.15 798.70 L1236.19 798.73 L1237.23 798.77 L1238.26 798.80 L1239.30 798.84 L1240.34 798.87 L1241.38 798.91 L1242.42 798.94 L1243.46 798.97 L1244.49 799.01 L1245.53 799.04 L1246.57 799.07 L1247.61 799.10 L1248.65 799.14 L1249.69 799.17 L1250.72 799.20 L1251.76 799.23 L1252.80 799.26 L1253.84 799.29 L1254.88 799.32 L1255.92 799.36 L1256.95 799.39 L1257.99 799.42 L1259.03 799.45 L1260.07 799.48 L1261.11 799.51 L1262.15 799.53 L1263.18 799.56 L1264.22 799.59 L1265.26 799.62 L1266.30 799.65 L1267.34 799.68 L1268.38 799.71 L1269.41 799.73 L1270.45 799.76 L1271.49 799.79 L1272.53 799.82 L1273.57 799.84 L1274.61 799.87 L1275.64 799.90 L1276.68 799.92 L1277.72 799.95 L1278.76 799.98 L1279.80 800.00 L1280.84 800.03 L1281.87 800.05 L1282.91 800.08 L1283.95 800.10 L1284.99 800.13 L1286.03 800.15 L1287.06 800.18 L1288.10 800.20 L1289.14 800.23 L1290.18 800.25 L1291.22 800.28 L1292.26 800.30 L1293.29 800.32 L1294.33 800.35 L1295.37 800.37 L1296.41 800.39 L1297.45 800.42 L1298.49 800.44 L1299.52 800.46 L1300.56 800.48 L1301.60 800.51 L1302.64 800.53 L1303.68 800.55 L1304.72 800.57 L1305.75 800.59 L1306.79 800.62 L1307.83 800.64 L1308.87 800.66 L1309.91 800.68 L1310.95 800.70 L1311.98 800.72 L1313.02 800.74 L1314.06 800.76 L1315.10 800.78 L1316.14 800.80 L1317.18 800.82 L1318.21 800.84 L1319.25 800.86 L1320.29 800.88 L1321.33 800.90 L1322.37 800.92 L1323.41 800.94 L1324.44 800.96 L1325.48 800.98 L1326.52 801.00 L1327.56 801.02 L1328.60 801.03 L1329.64 801.05 L1330.67 801.07 L1331.71 801.09 L1332.75 801.11 L1333.79 801.13 L1334.83 801.14 L1335.87 801.16 L1336.90 801.18 L1337.94 801.20 L1338.98 801.21 L1340.02 801.23 L1341.06 801.25 L1342.09 801.26 L1343.13 801.28 L1344.17 801.30 L1345.21 801.31 L1346.25 801.33 L1347.29 801.35 L1348.32 801.36 L1349.36 801.38 L1350.40 801.40 L1351.44 801.41 L1352.48 801.43 L1353.52 801.44 L1354.55 801.46 L1355.59 801.47 L1356.63 801.49 L1357.67 801.50 L1358.71 801.52 L1359.75 801.53 L1360.78 801.55 L1361.82 801.56 L1362.86 801.58 L1363.90 801.59 L1364.94 801.61 L1365.98 801.62 L1367.01 801.64 L1368.05 801.65 L1369.09 801.66 L1370.13 801.68 L1371.17 801.69 L1372.21 801.71 L1373.24 801.72 L1374.28 801.73 L1375.32 801.75 L1376.36 801.76 L1377.40 801.77 L1378.44 801.79 L1379.47 801.80 L1380.51 801.81 L1381.55 801.83 L1382.59 801.84 L1383.63 801.85 L1384.67 801.86 L1385.70 801.88 L1386.74 801.89 L1387.78 801.90 L1388.82 801.91 L1389.86 801.93 L1390.89 801.94 L1391.93 801.95 L1392.97 801.96 L1394.01 801.98 L1395.05 801.99 L1396.09 802.00 L1397.12 802.01 L1398.16 802.02 L1399.20 802.03 L1400.24 802.04 L1401.28 802.06 L1402.32 802.07 L1403.35 802.08 L1404.39 802.09 L1405.43 802.10 L1406.47 802.11 L1407.51 802.12 L1408.55 802.13 L1409.58 802.14 L1410.62 802.16 L1411.66 802.17 L1412.70 802.18 L1413.74 802.19 L1414.78 802.20 L1415.81 802.21 L1416.85 802.22 L1417.89 802.23 L1418.93 802.24 L1419.97 802.25 L1421.01 802.26 L1422.04 802.27 L1423.08 802.28 L1424.12 802.29 L1425.16 802.30 L1426.20 802.31 L1427.24 802.32 L1428.27 802.33 L1429.31 802.34 L1430.35 802.34 L1431.39 802.35 L1432.43 802.36 L1433.47 802.37 L1434.50 802.38 L1435.54 802.39 L1436.58 802.40 L1437.62 802.41 L1438.66 802.42 L1439.69 802.43 L1440.73 802.44 L1441.77 802.44 L1442.81 802.45 L1443.85 802.46 L1444.89 802.47 L1445.92 802.48 L1446.96 802.49 L1448.00 802.49 L1449.04 802.50 L1450.08 802.51 L1451.12 802.52 L1452.15 802.53 L1453.19 802.54 L1454.23 802.54 L1455.27 802.55 L1456.31 802.56 L1457.35 802.57 L1458.38 802.58 L1459.42 802.58 L1460.46 802.59 L1461.50 802.60 L1462.54 802.61 L1463.58 802.61 L1464.61 802.62 L1465.65 802.63 L1466.69 802.64 L1467.73 802.64 L1468.77 802.65 L1469.81 802.66 L1470.84 802.67 L1471.88 802.67 L1472.92 802.68 L1473.96 802.69 L1475.00 802.69 L1476.04 802.70 L1477.07 802.71 L1478.11 802.71 L1479.15 802.72 L1480.19 802.73 L1481.23 802.73 L1482.27 802.74 L1483.30 802.75 L1484.34 802.75 L1485.38 802.76 L1486.42 802.77 L1487.46 802.77 L1488.50 802.78 L1489.53 802.79 L1490.57 802.79 L1491.61 802.80 L1492.65 802.81 L1493.69 802.81 L1494.72 802.82 L1495.76 802.82 L1496.80 802.83 L1497.84 802.84 L1498.88 802.84 L1499.92 802.85 L1500.95 802.85 L1501.99 802.86 L1503.03 802.87 L1504.07 802.87 L1505.11 802.88 L1506.15 802.88 L1507.18 802.89 L1508.22 802.89 L1509.26 802.90 L1510.30 802.91 L1511.34 802.91 L1512.38 802.92 L1513.41 802.92 L1514.45 802.93 L1515.49 802.93 L1516.53 802.94 L1517.57 802.94 L1518.61 802.95 L1519.64 802.95 L1520.68 802.96 L1521.72 802.97 L1522.76 802.97 L1523.80 802.98 L1524.84 802.98 L1525.87 802.99 L1526.91 802.99 L1527.95 803.00 L1528.99 803.00 L1530.03 803.01 L1531.07 803.01 L1532.10 803.02 L1533.14 803.02 L1534.18 803.02 L1535.22 803.03 L1536.26 803.03 L1537.30 803.04 L1538.33 803.04 L1539.37 803.05 L1540.41 803.05 L1541.45 803.06 L1542.49 803.06 L1543.53 803.07 L1544.56 803.07 L1545.60 803.08 L1546.64 803.08 L1547.68 803.08 L1548.72 803.09 L1549.75 803.09 L1550.79 803.10 L1551.83 803.10 L1552.87 803.11 L1553.91 803.11 L1554.95 803.11 L1555.98 803.12 L1557.02 803.12 L1558.06 803.13 L1559.10 803.13 L1560.14 803.14 L1561.18 803.14 L1562.21 803.14 L1563.25 803.15 L1564.29 803.15 L1565.33 803.16 L1566.37 803.16 L1567.41 803.16 L1568.44 803.17 L1569.48 803.17 L1570.52 803.17 L1571.56 803.18 L1572.60 803.18 L1573.64 803.19 L1574.67 803.19 L1575.71 803.19 L1576.75 803.20 L1577.79 803.20 L1578.83 803.20 L1579.87 803.21 L1580.90 803.21 L1581.94 803.22 L1582.98 803.22 L1584.02 803.22 L1585.06 803.23 L1586.10 803.23 L1587.13 803.23 L1588.17 803.24 L1589.21 803.24 L1590.25 803.24 L1591.29 803.25 L1592.33 803.25 L1593.36 803.25 L1594.40 803.26 L1595.44 803.26 L1596.48 803.26 L1597.52 803.27 L1598.55 803.27 L1599.59 803.27 L1600.63 803.28 L1601.67 803.28 L1602.71 803.28 L1603.75 803.28 L1604.78 803.29 L1605.82 803.29 L1606.86 803.29 L1607.90 803.30 L1608.94 803.30 L1609.98 803.30 L1611.01 803.31 L1612.05 803.31 L1613.09 803.31 L1614.13 803.31 L1615.17 803.32 L1616.21 803.32 L1617.24 803.32 L1618.28 803.33 L1619.32 803.33 L1620.36 803.33 L1621.40 803.33 L1622.44 803.34 L1623.47 803.34 L1624.51 803.34 L1625.55 803.35 L1626.59 803.35 L1627.63 803.35 L1628.67 803.35 L1629.70 803.36 L1630.74 803.36 L1631.78 803.36 L1632.82 803.36 L1633.86 803.37 L1634.90 803.37 L1635.93 803.37 L1636.97 803.37 L1638.01 803.38 L1639.05 803.38 L1640.09 803.38 L1641.13 803.38 L1642.16 803.39 L1643.20 803.39 L1644.24 803.39 L1645.28 803.39 L1646.32 803.40 L1647.36 803.40 L1648.39 803.40 L1649.43 803.40 L1650.47 803.41 L1651.51 803.41 L1652.55 803.41 L1653.58 803.41 L1654.62 803.42 L1655.66 803.42 L1656.70 803.42 L1657.74 803.42 L1658.78 803.42 L1659.81 803.43 L1660.85 803.43 L1661.89 803.43 L1662.93 803.43 L1663.97 803.44 L1665.01 803.44 L1666.04 803.44 L1667.08 803.44 L1668.12 803.44 L1669.16 803.45 L1670.20 803.45 L1671.24 803.45 L1672.27 803.45 L1673.31 803.45 L1674.35 803.46 L1675.39 803.46 L1676.43 803.46 L1677.47 803.46 L1678.50 803.46 L1679.54 803.47 L1680.58 803.47 L1681.62 803.47 L1682.66 803.47 L1683.70 803.47 L1684.73 803.48 L1685.77 803.48 L1686.81 803.48 L1687.85 803.48 L1688.89 803.48 L1689.93 803.49 L1690.96 803.49 L1692.00 803.49 L1693.04 803.49 L1694.08 803.49 L1695.12 803.49 L1696.16 803.50 L1697.19 803.50 L1698.23 803.50 L1699.27 803.50 L1700.31 803.50 L1701.35 803.50 L1702.38 803.51 L1703.42 803.51 L1704.46 803.51 L1705.50 803.51 L1706.54 803.51 L1707.58 803.51 L1708.61 803.52 L1709.65 803.52 L1710.69 803.52 L1711.73 803.52 L1712.77 803.52 L1713.81 803.52 L1714.84 803.53 L1715.88 803.53 L1716.92 803.53 L1717.96 803.53 L1719.00 803.53 L1720.04 803.53 L1721.07 803.54 L1722.11 803.54 L1723.15 803.54 L1724.19 803.54 L1725.23 803.54 L1726.27 803.54 L1727.30 803.54 L1728.34 803.55 L1729.38 803.55 L1730.42 803.55 L1731.46 803.55 L1732.50 803.55 L1733.53 803.55 L1734.57 803.55 L1735.61 803.56 L1736.65 803.56 L1737.69 803.56 L1738.73 803.56 L1739.76 803.56 L1740.80 803.56 L1741.84 803.56 L1742.88 803.57 L1743.92 803.57 L1744.96 803.57 L1745.99 803.57 L1747.03 803.57 L1748.07 803.57 L1749.11 803.57 L1750.15 803.57 L1751.18 803.58 L1752.22 803.58 L1753.26 803.58 L1754.30 803.58 L1755.34 803.58 L1756.38 803.58 L1757.41 803.58 L1758.45 803.58 L1759.49 803.59 L1760.53 803.59 L1761.57 803.59 L1762.61 803.59 L1763.64 803.59 L1764.68 803.59 L1765.72 803.59 L1766.76 803.59 L1767.80 803.60 L1768.84 803.60 L1769.87 803.60 L1770.91 803.60 L1771.95 803.60 L1772.99 803.60 L1774.03 803.60 L1775.07 803.60 L1776.10 803.60 L1777.14 803.61 L1778.18 803.61 L1779.22 803.61 L1780.26 803.61 L1781.30 803.61 L1782.33 803.61 L1783.37 803.61 L1784.41 803.61 L1785.45 803.61 L1786.49 803.62 L1787.53 803.62 L1788.56 803.62 L1789.60 803.62 L1790.64 803.62 L1791.68 803.62 L1792.72 803.62 L1793.76 803.62 L1794.79 803.62 L1795.83 803.62 L1796.87 803.63 L1797.91 803.63 L1798.95 803.63 L1799.99 803.63 L1801.02 803.63 L1802.06 803.63 L1803.10 803.63" stroke="#0072B2" stroke-width="6.3" stroke-dasharray="19.72 8.53" stroke-linecap="butt"/>
</g>
<g shape-rendering="crispEdges" stroke-width="4" stroke-dasharray="14.8 6.4" fill="none">
<path d="M1046 839.3 V58.2" stroke="#E69F00"/>
<path d="M1098 839.3 V58.2" stroke="#0072B2"/>
</g>
<g filter="url(#bin)">
<text x="1057.00" y="246.00" font-size="24.50" fill="#E69F00" text-anchor="start" textLength="142.10" lengthAdjust="spacingAndGlyphs" stroke="#E69F00" stroke-width="0.90" stroke-linejoin="round">p99: 154ms</text>
<text x="1109.00" y="320.00" font-size="24.50" fill="#0072B2" text-anchor="start" textLength="142.10" lengthAdjust="spacingAndGlyphs" stroke="#0072B2" stroke-width="0.90" stroke-linejoin="round">p99: 164ms</text>
</g>
<g shape-rendering="crispEdges">
<rect x="1481" y="90" width="60" height="7" fill="#E69F00"/>
<rect x="1484" y="129" width="21" height="7" fill="#0072B2"/>
<rect x="1512" y="129" width="21" height="7" fill="#0072B2"/>
</g>
<g shape-rendering="crispEdges" fill="#000">
<rect x="166" y="56" width="4" height="785"/>
<rect x="166" y="837" width="1717" height="4"/>
<rect x="159" y="802" width="7" height="4"/>
<rect x="159" y="707" width="7" height="4"/>
<rect x="159" y="613" width="7" height="4"/>
<rect x="159" y="518" width="7" height="4"/>
<rect x="159" y="424" width="7" height="4"/>
<rect x="159" y="330" width="7" height="4"/>
<rect x="159" y="235" width="7" height="4"/>
<rect x="159" y="141" width="7" height="4"/>
<rect x="244" y="841" width="4" height="7"/>
<rect x="503" y="841" width="4" height="7"/>
<rect x="763" y="841" width="4" height="7"/>
<rect x="1022" y="841" width="4" height="7"/>
<rect x="1282" y="841" width="4" height="7"/>
<rect x="1542" y="841" width="4" height="7"/>
<rect x="1801" y="841" width="4" height="7"/>
</g>
<g filter="url(#bin)">
<text x="149.00" y="815.00" font-size="28.89" fill="#000" text-anchor="end" textLength="92.10" lengthAdjust="spacingAndGlyphs" stroke="#000" stroke-width="0.90" stroke-linejoin="round">0.0000</text>
<text x="149.00" y="720.00" font-size="28.89" fill="#000" text-anchor="end" textLength="92.10" lengthAdjust="spacingAndGlyphs" stroke="#000" stroke-width="0.90" stroke-linejoin="round">0.0025</text>
<text x="149.00" y="626.00" font-size="28.89" fill="#000" text-anchor="end" textLength="92.10" lengthAdjust="spacingAndGlyphs" stroke="#000" stroke-width="0.90" stroke-linejoin="round">0.0050</text>
<text x="149.00" y="531.00" font-size="28.89" fill="#000" text-anchor="end" textLength="92.10" lengthAdjust="spacingAndGlyphs" stroke="#000" stroke-width="0.90" stroke-linejoin="round">0.0075</text>
<text x="149.00" y="437.00" font-size="28.89" fill="#000" text-anchor="end" textLength="92.10" lengthAdjust="spacingAndGlyphs" stroke="#000" stroke-width="0.90" stroke-linejoin="round">0.0100</text>
<text x="149.00" y="342.00" font-size="28.89" fill="#000" text-anchor="end" textLength="92.10" lengthAdjust="spacingAndGlyphs" stroke="#000" stroke-width="0.90" stroke-linejoin="round">0.0125</text>
<text x="149.00" y="248.00" font-size="28.89" fill="#000" text-anchor="end" textLength="92.10" lengthAdjust="spacingAndGlyphs" stroke="#000" stroke-width="0.90" stroke-linejoin="round">0.0150</text>
<text x="149.00" y="153.00" font-size="28.89" fill="#000" text-anchor="end" textLength="92.10" lengthAdjust="spacingAndGlyphs" stroke="#000" stroke-width="0.90" stroke-linejoin="round">0.0175</text>
<text x="238.50" y="879.00" font-size="28.89" fill="#000" text-anchor="start" textLength="16.00" lengthAdjust="spacingAndGlyphs" stroke="#000" stroke-width="0.90" stroke-linejoin="round">0</text>
<text x="489.50" y="879.00" font-size="28.89" fill="#000" text-anchor="start" textLength="31.00" lengthAdjust="spacingAndGlyphs" stroke="#000" stroke-width="0.90" stroke-linejoin="round">50</text>
<text x="740.50" y="879.00" font-size="28.89" fill="#000" text-anchor="start" textLength="48.00" lengthAdjust="spacingAndGlyphs" stroke="#000" stroke-width="0.90" stroke-linejoin="round">100</text>
<text x="1000.50" y="879.00" font-size="28.89" fill="#000" text-anchor="start" textLength="48.00" lengthAdjust="spacingAndGlyphs" stroke="#000" stroke-width="0.90" stroke-linejoin="round">150</text>
<text x="1259.50" y="879.00" font-size="28.89" fill="#000" text-anchor="start" textLength="49.00" lengthAdjust="spacingAndGlyphs" stroke="#000" stroke-width="0.90" stroke-linejoin="round">200</text>
<text x="1518.50" y="879.00" font-size="28.89" fill="#000" text-anchor="start" textLength="50.00" lengthAdjust="spacingAndGlyphs" stroke="#000" stroke-width="0.90" stroke-linejoin="round">250</text>
<text x="1779.50" y="879.00" font-size="28.89" fill="#000" text-anchor="start" textLength="47.00" lengthAdjust="spacingAndGlyphs" stroke="#000" stroke-width="0.90" stroke-linejoin="round">300</text>
<text x="522.00" y="43.00" font-size="32.08" fill="#000" text-anchor="start" textLength="1007.10" lengthAdjust="spacingAndGlyphs" stroke="#000" stroke-width="0.90" stroke-linejoin="round">+10ms of constant overhead: p99 shifts from 154ms to 164ms</text>
<text x="892.00" y="916.00" font-size="27.78" fill="#000" text-anchor="start" textLength="265.10" lengthAdjust="spacingAndGlyphs" stroke="#000" stroke-width="0.90" stroke-linejoin="round">Response time (ms)</text>
<text x="0" y="0" font-size="27.78" fill="#000" stroke="#000" stroke-width="0.90" stroke-linejoin="round" textLength="100.10" lengthAdjust="spacingAndGlyphs" transform="translate(41.00 503.00) rotate(-90)">Density</text>
</g>
</svg></body></html>
